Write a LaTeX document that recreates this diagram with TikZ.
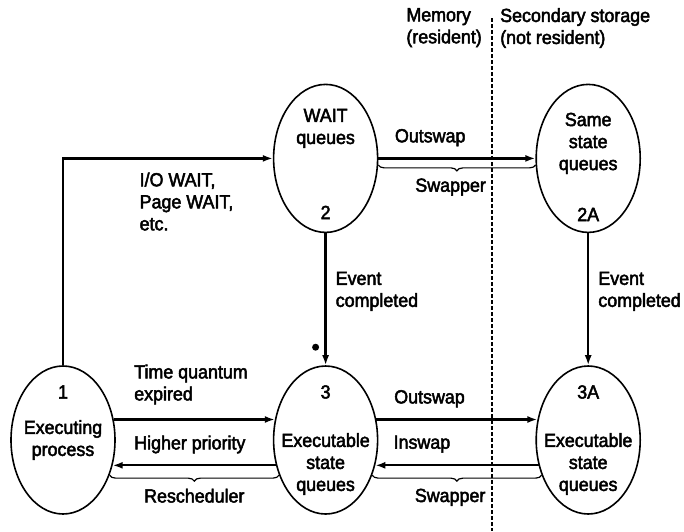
\documentclass[tikz,border=0pt]{standalone}
\usepackage{fontspec}
\setmainfont{Liberation Sans}[FakeBold=2.5, FakeStretch=0.94]
\usetikzlibrary{arrows.meta, positioning, shapes.geometric, decorations.pathreplacing}

\begin{document}
\begin{tikzpicture}[
  x=1pt, y=-1pt,
  node distance=157pt,
  queue/.style={ellipse, draw, line width=1.6pt,
                minimum width=104pt, minimum height=148pt, inner sep=0pt},
  lbl/.style={inner sep=0pt, align=center, font=\fontsize{19}{22}\selectfont},
  arrow/.style={-{Latex[length=10pt, width=7pt]}, line width=2.3pt},
  grp/.style={decorate, decoration={brace, mirror, amplitude=6pt}, line width=1.2pt}
]
\useasboundingbox (0,0) rectangle (684,531);

\node[queue] (exec) at (63,440) {};
\node[queue, right=of exec] (ready) {};
\node[queue, right=of ready] (swapready) {};
\node[queue, above=132pt of ready] (waitq) {};
\node[queue, above=132pt of swapready] (swapwait) {};

\node[lbl] (exec-num) at ([yshift=48pt]exec.center) {1};
\node[lbl] (exec-txt) at (exec.center) {Executing\\process};
\node[lbl] (ready-num) at ([yshift=48pt]ready.center) {3};
\node[lbl] (ready-txt) at ([yshift=-24pt]ready.center) {Executable\\state\\queues};
\node[lbl] (swapready-num) at ([yshift=48pt]swapready.center) {3A};
\node[lbl] (swapready-txt) at ([yshift=-24pt]swapready.center) {Executable\\state\\queues};
\node[lbl] (waitq-txt) at ([yshift=30pt]waitq.center) {WAIT\\queues};
\node[lbl] (waitq-num) at ([yshift=-54pt]waitq.center) {2};
\node[lbl] (swapwait-txt) at ([yshift=15pt]swapwait.center) {Same\\state\\queues};
\node[lbl] (swapwait-num) at ([yshift=-56pt]swapwait.center) {2A};

\coordinate (divtop) at (492,18);
\coordinate (divbot) at (492,531);
\draw[line width=1.8pt, dash pattern=on 4pt off 2pt] (divtop) -- (divbot);
\node[lbl, align=left, anchor=north east] (mem) at ([xshift=-10pt, yshift=10pt]divtop) {Memory\\(resident)};
\node[lbl, align=left, anchor=north west] (disk) at ([xshift=8pt, yshift=10pt]divtop) {Secondary storage\\(not resident)};

\draw[arrow] (exec.north) |- node[lbl, align=left, pos=0.68, below right=13pt and 0pt] (waitcause) {I/O WAIT,\\Page WAIT,\\etc.} (waitq.west);

\draw[arrow] (waitq.east) -- node[lbl, pos=0.33, above=11pt] (out-top) {Outswap} (swapwait.west);
\draw[grp] (waitq.-7) -- node[lbl, pos=0.46, below=13pt] (swapper-top) {Swapper} (swapwait.187);

\draw[arrow] (waitq.south) -- node[lbl, align=left, pos=0.44, right=9pt] (evt-l) {Event\\completed} (ready.north);
\draw[arrow] (swapwait.south) -- node[lbl, align=left, pos=0.44, right=9pt] (evt-r) {Event\\completed} (swapready.north);
\fill ([xshift=-10pt, yshift=18pt]ready.north) circle (3.5pt);

\draw[arrow] (exec.22) -- node[lbl, align=left, pos=0.12, above right=14pt and 0pt] (tq) {Time quantum\\expired}
  node[lbl, pos=0.12, below right=15pt and 0pt] (prio) {Higher priority} (ready.158);
\draw[arrow] (ready.-153) -- (exec.-27);
\draw[grp] (exec.-37) -- node[lbl, below=13pt] (resched) {Rescheduler} (ready.-143);

\draw[arrow] (ready.22) -- node[lbl, pos=0.33, above=11pt] (out-bot) {Outswap}
  node[lbl, pos=0.1, below right=15pt and 0pt] (inswap) {Inswap} (swapready.158);
\draw[arrow] (swapready.-153) -- (ready.-27);
\draw[grp] (ready.-37) -- node[lbl, pos=0.46, below=13pt] (swapper-bot) {Swapper} (swapready.-143);

\end{tikzpicture}
\end{document}
